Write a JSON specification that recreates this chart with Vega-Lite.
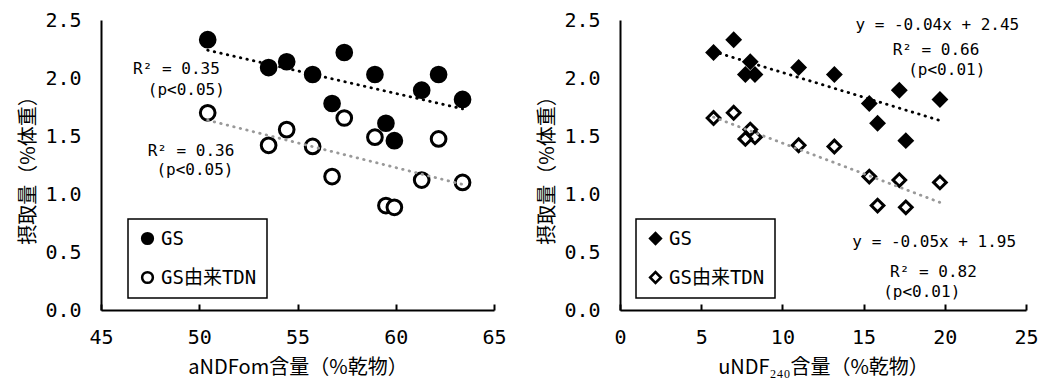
{
  "$schema": "https://vega.github.io/schema/vega-lite/v6.json",
  "background": "white",
  "padding": {"left": 18, "top": 10, "right": 5, "bottom": 4},
  "spacing": 30,
  "resolve": {
    "scale": {"x": "independent", "y": "independent", "fill": "independent", "shape": "independent"},
    "legend": {"fill": "independent", "shape": "independent"}
  },
  "datasets": {
    "samples": [
      {"andfom": 50.43, "undf": 7.0, "GS": 2.33, "GS由来TDN": 1.70},
      {"andfom": 53.53, "undf": 11.0, "GS": 2.09, "GS由来TDN": 1.42},
      {"andfom": 54.45, "undf": 8.02, "GS": 2.14, "GS由来TDN": 1.555},
      {"andfom": 57.38, "undf": 5.76, "GS": 2.22, "GS由来TDN": 1.655},
      {"andfom": 55.77, "undf": 13.2, "GS": 2.03, "GS由来TDN": 1.41},
      {"andfom": 58.94, "undf": 8.31, "GS": 2.03, "GS由来TDN": 1.49},
      {"andfom": 62.18, "undf": 7.72, "GS": 2.03, "GS由来TDN": 1.475},
      {"andfom": 61.32, "undf": 17.2, "GS": 1.895, "GS由来TDN": 1.12},
      {"andfom": 63.4, "undf": 19.7, "GS": 1.815, "GS由来TDN": 1.10},
      {"andfom": 56.76, "undf": 15.35, "GS": 1.78, "GS由来TDN": 1.15},
      {"andfom": 59.5, "undf": 15.86, "GS": 1.61, "GS由来TDN": 0.90},
      {"andfom": 59.93, "undf": 17.6, "GS": 1.46, "GS由来TDN": 0.885}
    ],
    "notes_left": [
      {"x": 48.84, "y": 2.078, "label": "R² = 0.35"},
      {"x": 49.34, "y": 1.897, "label": "(p<0.05)"},
      {"x": 49.58, "y": 1.373, "label": "R² = 0.36"},
      {"x": 49.78, "y": 1.207, "label": "(p<0.05)"}
    ],
    "notes_right": [
      {"x": 19.54, "y": 2.457, "label": "y = -0.04x + 2.45"},
      {"x": 19.46, "y": 2.241, "label": "R² = 0.66"},
      {"x": 20.12, "y": 2.069, "label": "(p<0.01)"},
      {"x": 19.35, "y": 0.589, "label": "y = -0.05x + 1.95"},
      {"x": 19.3, "y": 0.33, "label": "R² = 0.82"},
      {"x": 18.58, "y": 0.158, "label": "(p<0.01)"}
    ]
  },
  "hconcat": [
    {
      "width": 393,
      "height": 290,
      "layer": [
        {
          "data": {"name": "samples"},
          "transform": [{"fold": ["GS", "GS由来TDN"], "as": ["series", "intake"]}],
          "mark": {"type": "point", "filled": true, "stroke": "black", "strokeWidth": 3, "opacity": 1, "size": 216},
          "encoding": {
            "x": {"field": "andfom", "type": "quantitative", "title": "aNDFom含量（%乾物）",
              "scale": {"domain": [45, 65], "nice": false, "zero": false},
              "axis": {"values": [45, 50, 55, 60, 65], "format": "d"}},
            "y": {"field": "intake", "type": "quantitative", "title": "摂取量（%体重）",
              "scale": {"domain": [0, 2.5], "nice": false},
              "axis": {"values": [0, 0.5, 1, 1.5, 2, 2.5], "format": ".1f"}},
            "fill": {"field": "series", "type": "nominal",
              "scale": {"domain": ["GS", "GS由来TDN"], "range": ["black", "white"]},
              "legend": {"title": null, "orient": "none", "legendX": 27, "legendY": 199,
                "encode": {"symbols": {"update": {"stroke": {"value": "black"}, "strokeWidth": {"value": 2.5}}}}}},
            "shape": {"field": "series", "type": "nominal",
              "scale": {"domain": ["GS", "GS由来TDN"], "range": ["circle", "circle"]},
              "legend": {"title": null, "orient": "none", "legendX": 27, "legendY": 199,
                "encode": {"symbols": {"update": {"stroke": {"value": "black"}, "strokeWidth": {"value": 2.5}}}}}},
            "order": {"field": "series"}
          }
        },
        {
          "data": {"name": "samples"},
          "transform": [{"regression": "GS", "on": "andfom"}],
          "mark": {"type": "line", "stroke": "black", "strokeWidth": 2.8, "strokeDash": [0.5, 6.2], "strokeCap": "round"},
          "encoding": {
            "x": {"field": "andfom", "type": "quantitative", "title": "aNDFom含量（%乾物）"},
            "y": {"field": "GS", "type": "quantitative", "title": "摂取量（%体重）"}
          }
        },
        {
          "data": {"name": "samples"},
          "transform": [{"regression": "GS由来TDN", "on": "andfom"}],
          "mark": {"type": "line", "stroke": "#999999", "strokeWidth": 2.8, "strokeDash": [0.5, 6.2], "strokeCap": "round"},
          "encoding": {
            "x": {"field": "andfom", "type": "quantitative", "title": "aNDFom含量（%乾物）"},
            "y": {"field": "GS由来TDN", "type": "quantitative", "title": "摂取量（%体重）"}
          }
        },
        {
          "data": {"name": "notes_left"},
          "mark": {"type": "text", "fontSize": 16, "color": "black", "align": "center", "baseline": "middle"},
          "encoding": {
            "x": {"field": "x", "type": "quantitative", "title": "aNDFom含量（%乾物）"},
            "y": {"field": "y", "type": "quantitative", "title": "摂取量（%体重）"},
            "text": {"field": "label"}
          }
        }
      ]
    },
    {
      "width": 406,
      "height": 290,
      "layer": [
        {
          "data": {"name": "samples"},
          "transform": [{"fold": ["GS", "GS由来TDN"], "as": ["series", "intake"]}],
          "mark": {"type": "point", "filled": true, "stroke": "black", "strokeWidth": 3, "opacity": 1, "size": 160},
          "encoding": {
            "x": {"field": "undf", "type": "quantitative", "title": "uNDF₂₄₀含量（%乾物）",
              "scale": {"domain": [0, 25], "nice": false},
              "axis": {"values": [0, 5, 10, 15, 20, 25], "format": "d"}},
            "y": {"field": "intake", "type": "quantitative", "title": "摂取量（%体重）",
              "scale": {"domain": [0, 2.5], "nice": false},
              "axis": {"values": [0, 0.5, 1, 1.5, 2, 2.5], "format": ".1f"}},
            "fill": {"field": "series", "type": "nominal",
              "scale": {"domain": ["GS", "GS由来TDN"], "range": ["black", "white"]},
              "legend": {"title": null, "orient": "none", "legendX": 16, "legendY": 199,
                "encode": {"symbols": {"update": {"stroke": {"value": "black"}, "strokeWidth": {"value": 2.5}}}}}},
            "shape": {"field": "series", "type": "nominal",
              "scale": {"domain": ["GS", "GS由来TDN"], "range": ["diamond", "diamond"]},
              "legend": {"title": null, "orient": "none", "legendX": 16, "legendY": 199,
                "encode": {"symbols": {"update": {"stroke": {"value": "black"}, "strokeWidth": {"value": 2.5}}}}}},
            "order": {"field": "series"}
          }
        },
        {
          "data": {"name": "samples"},
          "transform": [{"regression": "GS", "on": "undf"}],
          "mark": {"type": "line", "stroke": "black", "strokeWidth": 2.8, "strokeDash": [0.5, 6.2], "strokeCap": "round"},
          "encoding": {
            "x": {"field": "undf", "type": "quantitative", "title": "uNDF₂₄₀含量（%乾物）"},
            "y": {"field": "GS", "type": "quantitative", "title": "摂取量（%体重）"}
          }
        },
        {
          "data": {"name": "samples"},
          "transform": [{"regression": "GS由来TDN", "on": "undf"}],
          "mark": {"type": "line", "stroke": "#999999", "strokeWidth": 2.8, "strokeDash": [0.5, 6.2], "strokeCap": "round"},
          "encoding": {
            "x": {"field": "undf", "type": "quantitative", "title": "uNDF₂₄₀含量（%乾物）"},
            "y": {"field": "GS由来TDN", "type": "quantitative", "title": "摂取量（%体重）"}
          }
        },
        {
          "data": {"name": "notes_right"},
          "mark": {"type": "text", "fontSize": 16, "color": "black", "align": "center", "baseline": "middle"},
          "encoding": {
            "x": {"field": "x", "type": "quantitative", "title": "uNDF₂₄₀含量（%乾物）"},
            "y": {"field": "y", "type": "quantitative", "title": "摂取量（%体重）"},
            "text": {"field": "label"}
          }
        }
      ]
    }
  ],
  "config": {
    "font": "DejaVu Sans Mono, Noto Sans CJK JP",
    "view": {"stroke": null},
    "axis": {
      "grid": false,
      "domainColor": "black",
      "domainWidth": 2,
      "labelColor": "black",
      "labelFontSize": 20,
      "titleColor": "black",
      "titleFont": "Noto Sans CJK JP",
      "titleFontSize": 20,
      "titleFontWeight": "normal",
      "labelFlush": false
    },
    "axisX": {"tickSize": -6, "tickWidth": 2, "tickColor": "black", "labelPadding": 23, "titlePadding": 10},
    "axisY": {"ticks": false, "labelPadding": 20, "titlePadding": 6},
    "legend": {
      "strokeColor": "black",
      "strokeWidth": 1.5,
      "padding": 10,
      "rowPadding": 18,
      "symbolSize": 115,
      "symbolStrokeWidth": 2.5,
      "symbolStrokeColor": "black",
      "symbolOpacity": 1,
      "labelFontSize": 19,
      "labelColor": "black",
      "labelOffset": 4
    }
  }
}
